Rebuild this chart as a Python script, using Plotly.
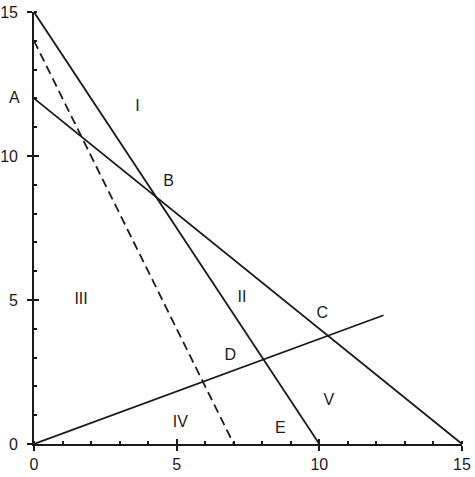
import plotly.graph_objects as go

# straight lines (start and end points)
solid_lines = {
    'l1': ([0, 10], [15, 0]),
    'l2': ([0, 15], [12, 0]),
    'l4': ([0, 12.25], [0, 4.47]),
}
dashed_x = [0, 7]
dashed_y = [14, 0]

# region / point labels inside the plot
label_text = ['I', 'B', 'II', 'C', 'III', 'D', 'IV', 'E', 'V']
label_x = [3.63, 4.72, 7.29, 10.1, 1.65, 6.88, 5.13, 8.63, 10.33]
label_y = [11.7, 9.1, 5.06, 4.5, 5.0, 3.06, 0.72, 0.51, 1.5]
# point A sits on the y axis, label drawn to its left
a_text, a_x, a_y = 'A', 0, 12

ink = '#1a1a1a'

fig = go.Figure()
for name, (xs, ys) in solid_lines.items():
    fig.add_trace(go.Scatter(x=xs, y=ys, mode='lines', name=name,
                             line=dict(color=ink, width=1.8)))
fig.add_trace(go.Scatter(x=dashed_x, y=dashed_y, mode='lines', name='dash',
                         line=dict(color=ink, width=1.8, dash='9px,5px')))
fig.add_trace(go.Scatter(x=label_x, y=label_y, text=label_text, mode='text',
                         textfont=dict(size=16, color=ink), cliponaxis=False,
                         hoverinfo='skip'))
fig.add_annotation(x=a_x, y=a_y, text=a_text, showarrow=False,
                   xanchor='right', xshift=-12, yshift=1,
                   font=dict(size=16, color=ink))
# invisible trace on the overlay axes so they render
fig.add_trace(go.Scatter(x=[0], y=[0], mode='markers', xaxis='x2', yaxis='y2',
                         marker=dict(opacity=0), hoverinfo='skip'))

axis_common = dict(range=[0, 15], showgrid=False, zeroline=False,
                   linecolor=ink, linewidth=1.6, automargin=False,
                   tickcolor=ink, tickwidth=1.6)

fig.update_layout(
    width=475, height=477,
    margin=dict(l=34, r=13, t=12, b=33),
    plot_bgcolor='white', paper_bgcolor='white',
    showlegend=False,
    font=dict(family='Liberation Sans, Arial', size=16, color=ink),
    xaxis=dict(**axis_common, showline=True, tickmode='array',
               tickvals=[0, 5, 10, 15], ticks='outside', ticklen=5,
               minor=dict(ticks='inside', ticklen=3, dtick=1,
                          tickcolor=ink, tickwidth=1.6)),
    yaxis=dict(**axis_common, showline=True, tickmode='array',
               tickvals=[0, 5, 10, 15], ticks='outside', ticklen=5,
               ticklabelstandoff=6,
               minor=dict(ticks='inside', ticklen=3, dtick=1,
                          tickcolor=ink, tickwidth=1.6)),
    xaxis2=dict(**axis_common, overlaying='x', anchor='y2', side='bottom',
                showline=False, tickmode='array', tickvals=[0, 5, 10, 15],
                ticks='inside', ticklen=5, showticklabels=False),
    yaxis2=dict(**axis_common, overlaying='y', anchor='x2', side='left',
                showline=False, tickmode='array', tickvals=[0, 5, 10, 15],
                ticks='inside', ticklen=5, showticklabels=False),
)

# drop the default page margin so the figure sits at the window corner
fig.write_html('out.html', config={'displayModeBar': False},
               post_script="document.body.style.margin='0';")
